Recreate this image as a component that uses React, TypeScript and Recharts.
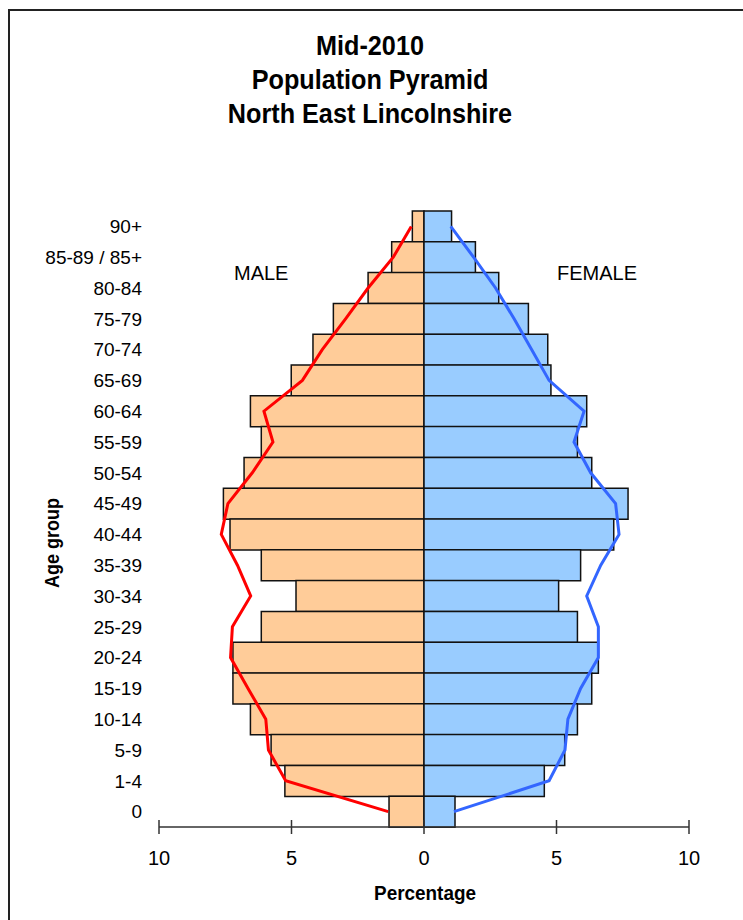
import React from "react";
import {
  ComposedChart,
  Bar,
  Line,
  XAxis,
  YAxis,
} from "recharts";

// age groups, top row first
const ageGroups = [
  "90+", "85-89 / 85+", "80-84", "75-79", "70-74", "65-69", "60-64",
  "55-59", "50-54", "45-49", "40-44", "35-39", "30-34", "25-29",
  "20-24", "15-19", "10-14", "5-9", "1-4", "0",
];

// North East Lincolnshire, % of population
const maleBars = [
  0.44, 1.22, 2.11, 3.42, 4.19, 5.01, 6.55, 6.14, 6.79, 7.57, 7.32,
  6.14, 4.83, 6.14, 7.21, 7.21, 6.55, 5.77, 5.25, 1.32,
];
const femaleBars = [
  1.04, 1.94, 2.82, 3.94, 4.67, 4.79, 6.14, 5.79, 6.33, 7.7, 7.16,
  5.91, 5.08, 5.79, 6.58, 6.33, 5.79, 5.31, 4.54, 1.17,
];

// comparison outline (lines)
const maleLine = [
  0.48, 1.16, 2.11, 2.96, 3.84, 4.59, 6.04, 5.7, 6.48, 7.4, 7.65,
  7.04, 6.54, 7.23, 7.3, 6.64, 5.97, 5.87, 5.22, 1.35,
];
const femaleLine = [
  1.01, 1.87, 2.7, 3.4, 4.06, 4.72, 6.04, 5.66, 6.29, 7.23, 7.36,
  6.67, 6.14, 6.58, 6.58, 5.91, 5.43, 5.32, 4.72, 1.13,
];

const xTicks = [-10, -5, 0, 5, 10];

const data = ageGroups.map((age, i) => ({
  age,
  male: -maleBars[i],
  female: femaleBars[i],
  maleRef: -maleLine[i],
  femaleRef: femaleLine[i],
}));

const FONT = '"Liberation Sans", Arial, sans-serif';

const XTick = (props: any) => {
  const { x, y, payload } = props;
  return (
    <g>
      <line x1={x} x2={x} y1={y - 7} y2={y + 7} stroke="#333" strokeWidth={1.5} />
      <text x={x} y={y + 38} textAnchor="middle" fontSize={20} fontFamily={FONT} fill="#000">
        {Math.abs(payload.value)}
      </text>
    </g>
  );
};

const bold: React.CSSProperties = {
  fontFamily: FONT,
  fontWeight: "bold",
  color: "#000",
};

export default function App() {
  return (
    <div>
      {/* frame */}
      <div
        style={{
          position: "absolute",
          left: 8,
          top: 9,
          width: 760,
          height: 940,
          borderLeft: "2px solid #222",
          borderTop: "2px solid #222",
        }}
      />
      <div
        style={{
          ...bold,
          position: "absolute",
          left: 10,
          top: 29,
          width: 720,
          textAlign: "center",
          fontSize: 28,
          lineHeight: "34px",
          transform: "scaleX(0.9)",
        }}
      >
        <div>Mid-2010</div>
        <div>Population Pyramid</div>
        <div>North East Lincolnshire</div>
      </div>

      <div style={{ position: "absolute", left: 0, top: 0 }}>
        <ComposedChart
          width={743}
          height={920}
          data={data}
          layout="vertical"
          stackOffset="sign"
          barCategoryGap={0}
          margin={{ top: 211, right: 54, bottom: 0, left: 0 }}
        >
          <XAxis
            type="number"
            domain={[-10, 10]}
            ticks={xTicks}
            height={93}
            tickSize={0}
            tickMargin={0}
            tickLine={false}
            axisLine={{ stroke: "#333", strokeWidth: 1.5 }}
            tick={<XTick />}
            interval={0}
          />
          <YAxis
            type="category"
            dataKey="age"
            width={159}
            axisLine={false}
            tickLine={false}
            tickSize={0}
            tickMargin={17}
            interval={0}
            tick={{ fontSize: 19, fill: "#000", fontFamily: FONT }}
          />
          <Bar dataKey="male" stackId="p" fill="#FFCC99" stroke="#111" strokeWidth={1.5} isAnimationActive={false} />
          <Bar dataKey="female" stackId="p" fill="#99CCFF" stroke="#111" strokeWidth={1.5} isAnimationActive={false} />
          <Line dataKey="maleRef" stroke="#FF0000" strokeWidth={3} dot={false} isAnimationActive={false} />
          <Line dataKey="femaleRef" stroke="#3366FF" strokeWidth={3} dot={false} isAnimationActive={false} />
        </ComposedChart>
      </div>

      <div style={{ position: "absolute", left: 234, top: 262, fontFamily: FONT, fontSize: 20 }}>MALE</div>
      <div style={{ position: "absolute", left: 557, top: 262, fontFamily: FONT, fontSize: 20 }}>FEMALE</div>

      <div
        style={{
          ...bold,
          position: "absolute",
          left: 52,
          top: 543,
          fontSize: 20,
          whiteSpace: "nowrap",
          transform: "translate(-50%, -50%) rotate(-90deg) scaleX(0.9)",
        }}
      >
        Age group
      </div>
      <div
        style={{
          ...bold,
          position: "absolute",
          left: 425,
          top: 893,
          fontSize: 21,
          whiteSpace: "nowrap",
          transform: "translate(-50%, -50%) scaleX(0.9)",
        }}
      >
        Percentage
      </div>
    </div>
  );
}
